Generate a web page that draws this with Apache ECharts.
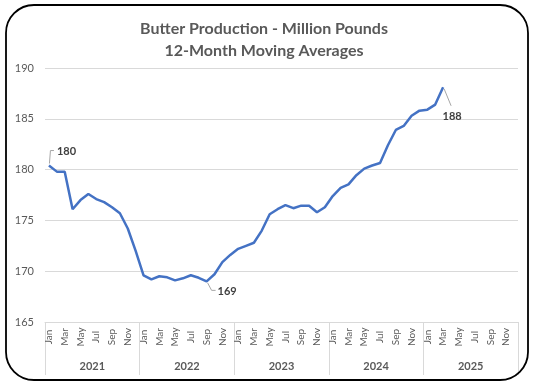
<!DOCTYPE html>
<html>
<head>
<meta charset="utf-8">
<script src="https://cdn.jsdelivr.net/npm/echarts@6/dist/echarts.min.js"></script>
<style>html,body{margin:0;padding:0;background:#fff}#c{width:539px;height:389px}</style>
</head>
<body>
<div id="c"></div>
<script>
var years = ['2021', '2022', '2023', '2024', '2025'];
var monthNames = ['Jan','Feb','Mar','Apr','May','Jun','Jul','Aug','Sep','Oct','Nov','Dec'];
var yTicks = [165, 170, 175, 180, 185, 190];
var production = [
  180.4, 179.8, 179.8, 176.1, 177.0, 177.6, 177.1, 176.8, 176.3, 175.7, 174.2, 172.0,
  169.6, 169.2, 169.5, 169.4, 169.1, 169.3, 169.6, 169.35, 169.0, 169.7, 170.9, 171.6,
  172.2, 172.5, 172.8, 174.0, 175.6, 176.1, 176.5, 176.2, 176.45, 176.45, 175.8, 176.3,
  177.4, 178.2, 178.55, 179.45, 180.1, 180.4, 180.65, 182.4, 183.9, 184.3, 185.3, 185.8,
  185.9, 186.4, 188.1
];
var annotatedIdx = [0, 20, 50];

var categories = [];
years.forEach(function (y) { monthNames.forEach(function (m) { categories.push(m + ' ' + y); }); });

var annData = annotatedIdx.map(function (i) {
  return [i, production[i], String(Math.round(production[i]))];
});

var FONT = 'Lato';
var GRAY = '#595959';

var chart = echarts.init(document.getElementById('c'));
chart.setOption({
  animation: false,
  backgroundColor: '#fff',
  title: {
    text: 'Butter Production - Million Pounds\n12-Month Moving Averages',
    left: 259, top: 13, textAlign: 'center',
    textStyle: { fontFamily: FONT, fontSize: 16, fontWeight: 'bold', color: GRAY, lineHeight: 22 }
  },
  graphic: [{
    type: 'rect', silent: true, z: 100,
    shape: { x: 6, y: 5, width: 522, height: 375, r: 28 },
    style: { fill: 'none', stroke: '#000', lineWidth: 1.8 }
  }],
  grid: { left: 45, right: 21, top: 68, bottom: 67 },
  xAxis: [{
    type: 'category', data: categories, boundaryGap: true,
    axisLine: { show: true, lineStyle: { color: '#d9d9d9', width: 1 } },
    axisTick: { show: false },
    axisLabel: {
      interval: 1, rotate: 90, align: 'center', margin: 15,
      fontFamily: FONT, fontSize: 10, color: GRAY,
      formatter: function (v) { return v.split(' ')[0]; }
    }
  }, {
    type: 'category', data: years, position: 'bottom', boundaryGap: true,
    axisLine: { show: false },
    axisTick: { show: true, length: 53, interval: 0, lineStyle: { color: '#d9d9d9', width: 1 } },
    axisLabel: { interval: 0, margin: 39, fontFamily: FONT, fontSize: 11, fontWeight: 'bold', color: GRAY }
  }],
  yAxis: {
    type: 'value', min: yTicks[0], max: yTicks[yTicks.length - 1], interval: 5,
    axisLine: { show: false }, axisTick: { show: false },
    splitLine: { lineStyle: { color: '#d9d9d9', width: 1 } },
    axisLabel: { margin: 11, fontFamily: FONT, fontSize: 11, color: GRAY }
  },
  series: [{
    type: 'line', data: production, xAxisIndex: 0,
    showSymbol: false, symbol: 'none',
    lineStyle: { color: '#4472C4', width: 2.5 },
    z: 3
  }, {
    type: 'custom', xAxisIndex: 0, data: annData, z: 5, clip: false,
    renderItem: function (params, api) {
      var p = api.coord([api.value(0), api.value(1)]);
      var txt = annData[params.dataIndex][2];
      var idx = params.dataIndex;
      var pts, tx, ty, align;
      if (idx === 0) {
        pts = [[p[0] + 0.5, p[1] - 2], [p[0] + 1.5, p[1] - 15], [p[0] + 5, p[1] - 15]];
        tx = p[0] + 8; ty = p[1] - 14.5; align = 'left';
      } else if (idx === 1) {
        pts = [[p[0] + 1, p[1] + 1.5], [p[0] + 5, p[1] + 9], [p[0] + 9, p[1] + 9]];
        tx = p[0] + 11; ty = p[1] + 10.5; align = 'left';
      } else {
        pts = [[p[0] + 1, p[1] + 1.5], [p[0] + 8, p[1] + 18.5]];
        tx = p[0] + 9; ty = p[1] + 29.5; align = 'center';
      }
      return {
        type: 'group',
        children: [{
          type: 'polyline', shape: { points: pts },
          style: { stroke: '#a6a6a6', lineWidth: 1, fill: 'none' }
        }, {
          type: 'text',
          style: { x: tx, y: ty, text: txt, textAlign: align, textVerticalAlign: 'middle',
                   fontFamily: FONT, fontSize: 11, fontWeight: 'bold', fill: '#404040' }
        }]
      };
    }
  }]
});
</script>
</body>
</html>
